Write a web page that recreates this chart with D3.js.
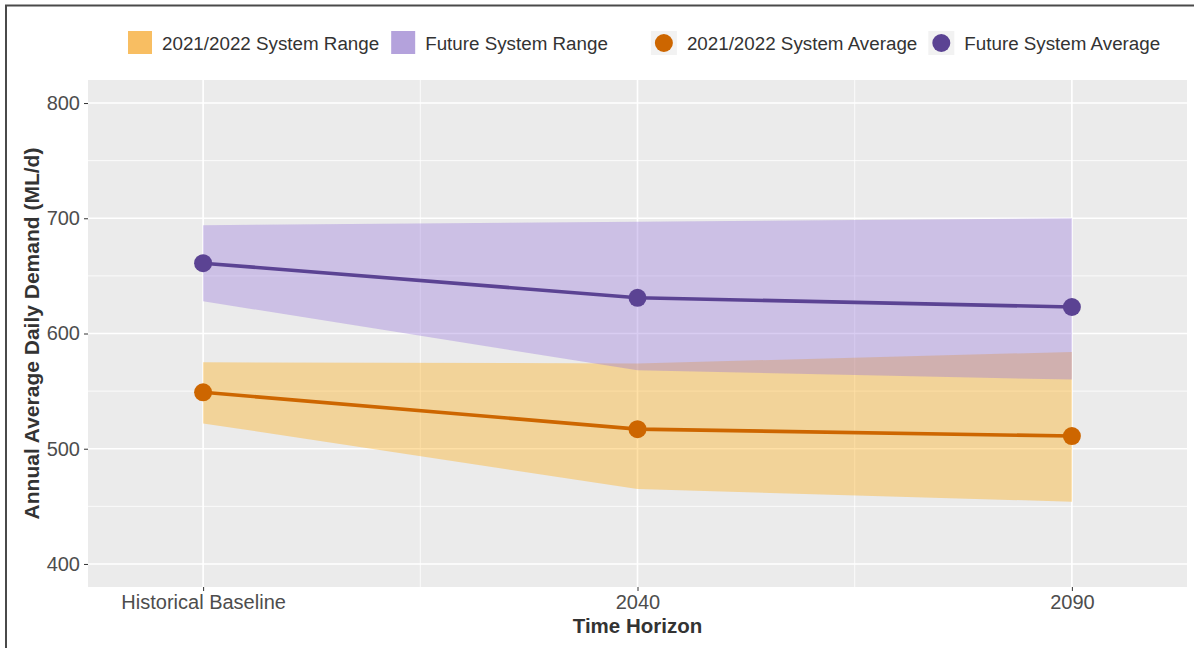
<!DOCTYPE html>
<html>
<head>
<meta charset="utf-8">
<script src="https://cdn.jsdelivr.net/npm/d3@7"></script>
<style>
  html, body { margin: 0; padding: 0; background: #fff; }
  svg { display: block; font-family: "Liberation Sans", Arial, sans-serif; }
</style>
</head>
<body>
<svg id="chart" width="1194" height="648"></svg>
<script>
// ---- data ----
const categories = ["Historical Baseline", "2040", "2090"];
const currentAvg = [549, 517, 511];
const currentLow = [522, 465, 454];
const currentHigh = [575, 574, 584];
const futureAvg = [661, 631, 623];
const futureLow = [628, 568, 560];
const futureHigh = [694, 697, 700];
const yTicks = [400, 500, 600, 700, 800];
const yMinor = [450, 550, 650, 750];
const legendLabels = ["2021/2022 System Range", "Future System Range", "2021/2022 System Average", "Future System Average"];

// ---- styles ----
const orange = "#FFA500", purple = "#9370DB";
const orangeLine = "#CD6600", purpleLine = "#5B4393";

const svg = d3.select("#chart");
const panel = { left: 88, right: 1187, top: 80, bottom: 587 };

const x = d3.scalePoint().domain(categories).range([panel.left, panel.right]).padding(0.265);
const y = d3.scaleLinear().domain([380, 820]).range([panel.bottom, panel.top]);

// frame
svg.append("path").attr("d", "M6,648 L6,5.5 L1194,5.5").attr("fill", "none").attr("stroke", "#4a4a4a").attr("stroke-width", 2);

// panel background
svg.append("rect").attr("x", panel.left).attr("y", panel.top)
  .attr("width", panel.right - panel.left).attr("height", panel.bottom - panel.top).attr("fill", "#EBEBEB");

const grid = svg.append("g");
grid.selectAll(".ymin").data(yMinor).join("line")
  .attr("x1", panel.left).attr("x2", panel.right).attr("y1", d => y(d)).attr("y2", d => y(d))
  .attr("stroke", "#fff").attr("stroke-width", 0.8);
const mids = categories.slice(1).map((c, i) => (x(c) + x(categories[i])) / 2);
grid.selectAll(".xmin").data(mids).join("line")
  .attr("y1", panel.top).attr("y2", panel.bottom).attr("x1", d => d).attr("x2", d => d)
  .attr("stroke", "#fff").attr("stroke-width", 0.8);
grid.selectAll(".ymaj").data(yTicks).join("line")
  .attr("x1", panel.left).attr("x2", panel.right).attr("y1", d => y(d)).attr("y2", d => y(d))
  .attr("stroke", "#fff").attr("stroke-width", 1.6);
grid.selectAll(".xmaj").data(categories).join("line")
  .attr("y1", panel.top).attr("y2", panel.bottom).attr("x1", d => x(d)).attr("x2", d => x(d))
  .attr("stroke", "#fff").attr("stroke-width", 1.6);

// ribbons
const idx = d3.range(categories.length);
const area = (lo, hi) => d3.area().x(i => x(categories[i])).y0(i => y(lo[i])).y1(i => y(hi[i]))(idx);
svg.append("path").attr("d", area(currentLow, currentHigh)).attr("fill", orange).attr("fill-opacity", 0.35);
svg.append("path").attr("d", area(futureLow, futureHigh)).attr("fill", purple).attr("fill-opacity", 0.35);

// lines + points
const line = vals => d3.line().x(i => x(categories[i])).y(i => y(vals[i]))(idx);
[[currentAvg, orangeLine], [futureAvg, purpleLine]].forEach(([vals, col]) => {
  svg.append("path").attr("d", line(vals)).attr("fill", "none").attr("stroke", col).attr("stroke-width", 3.6);
  svg.append("g").selectAll("circle").data(idx).join("circle")
    .attr("cx", i => x(categories[i])).attr("cy", i => y(vals[i])).attr("r", 9).attr("fill", col);
});

// axes
const yAxis = svg.append("g").attr("transform", `translate(${panel.left},0)`)
  .call(d3.axisLeft(y).tickValues(yTicks).tickSize(4).tickPadding(4));
const xAxis = svg.append("g").attr("transform", `translate(0,${panel.bottom})`)
  .call(d3.axisBottom(x).tickSize(4).tickPadding(4));
[yAxis, xAxis].forEach(a => {
  a.select(".domain").remove();
  a.selectAll(".tick line").attr("stroke", "#333").attr("stroke-width", 1);
  a.selectAll(".tick text").attr("fill", "#4D4D4D").style("font-size", "20px")
   .style("font-family", "'Liberation Sans', Arial, sans-serif");
});

// axis titles
svg.append("text").attr("x", (panel.left + panel.right) / 2).attr("y", 633)
  .attr("text-anchor", "middle").attr("font-weight", "bold").attr("font-size", 20.5).attr("fill", "#333")
  .text("Time Horizon");
svg.append("text").attr("transform", `translate(39,${(panel.top + panel.bottom) / 2}) rotate(-90)`)
  .attr("text-anchor", "middle").attr("font-weight", "bold").attr("font-size", 21).attr("fill", "#333")
  .text("Annual Average Daily Demand (ML/d)");

// legend
const leg = svg.append("g");
const legendY = 43;
const keyFills = ["#F8BE62", "#B4A2DC", orangeLine, purpleLine];
const gapsBefore = [0, 12, 43, 11];
let cx = 128;
legendLabels.forEach((lab, i) => {
  cx += gapsBefore[i];
  if (i < 2) {
    leg.append("rect").attr("x", cx).attr("y", legendY - 12).attr("width", 24).attr("height", 23).attr("fill", keyFills[i]);
  } else {
    leg.append("rect").attr("x", cx).attr("y", legendY - 12).attr("width", 26).attr("height", 24).attr("fill", "#F2F2F2");
    leg.append("circle").attr("cx", cx + 13).attr("cy", legendY).attr("r", 9).attr("fill", keyFills[i]);
  }
  const kw = i < 2 ? 24 : 26;
  const t = leg.append("text").attr("x", cx + kw + 10).attr("y", legendY + 6.5)
    .attr("font-size", 18.8).attr("fill", "#333").text(lab);
  cx += kw + 10 + t.node().getComputedTextLength();
});
</script>
</body>
</html>
